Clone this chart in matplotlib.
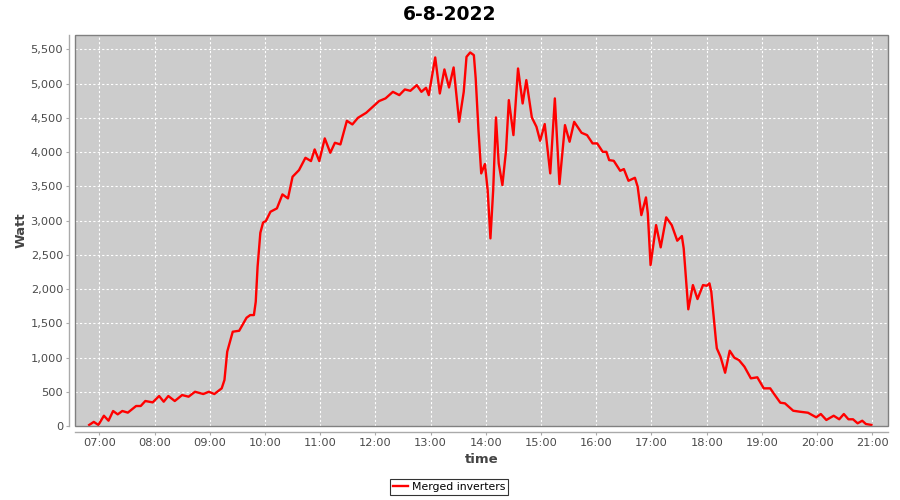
import matplotlib
matplotlib.use("Agg")
import matplotlib.pyplot as plt
from matplotlib.ticker import FuncFormatter
from matplotlib.patches import Rectangle
import pandas as pd

title = "6-8-2022"
series_name = "Merged inverters"
date = "2022-08-06"

times = [
    "06:49", "06:54", "06:59", "07:05", "07:10", "07:15", "07:20", "07:25", "07:31", "07:40",
    "07:45", "07:50", "07:58", "08:05", "08:10", "08:15", "08:22", "08:30", "08:37", "08:44",
    "08:53", "08:59", "09:05", "09:13", "09:16", "09:19", "09:25", "09:32", "09:40", "09:44",
    "09:48", "09:50", "09:52", "09:55", "09:58", "10:01", "10:06", "10:13", "10:19", "10:25",
    "10:30", "10:37", "10:44", "10:50", "10:54", "10:59", "11:05", "11:11", "11:16", "11:22",
    "11:29", "11:35", "11:41", "11:50", "11:58", "12:04", "12:11", "12:19", "12:26", "12:32",
    "12:38", "12:45", "12:50", "12:55", "12:58", "13:05", "13:10", "13:15", "13:20", "13:25",
    "13:31", "13:36", "13:39", "13:43", "13:47", "13:49", "13:52", "13:55", "13:59", "14:02",
    "14:05", "14:08", "14:11", "14:14", "14:18", "14:22", "14:25", "14:30", "14:35", "14:40",
    "14:44", "14:50", "14:55", "14:59", "15:04", "15:10", "15:15", "15:20", "15:26", "15:31",
    "15:36", "15:44", "15:50", "15:56", "16:01", "16:07", "16:11", "16:14", "16:19", "16:26",
    "16:30", "16:35", "16:42", "16:45", "16:49", "16:54", "16:56", "16:59", "17:05", "17:10",
    "17:16", "17:22", "17:28", "17:33", "17:35", "17:40", "17:45", "17:50", "17:56", "18:00",
    "18:03", "18:05", "18:10", "18:11", "18:15", "18:20", "18:25", "18:30", "18:35", "18:41",
    "18:48", "18:55", "19:02", "19:09", "19:14", "19:20", "19:25", "19:34", "19:41", "19:50",
    "19:59", "20:04", "20:10", "20:18", "20:24", "20:29", "20:34", "20:39", "20:44", "20:49",
    "20:53", "20:59",
]
watts = [
    15, 60, 15, 150, 78, 219, 170, 219, 195, 292,
    292, 365, 345, 438, 355, 438, 365, 452, 428, 500,
    467, 500, 467, 550, 672, 1085, 1377, 1391, 1581, 1620,
    1620, 1815, 2326, 2822, 2973, 2993, 3129, 3178, 3382, 3324,
    3640, 3737, 3917, 3869, 4039, 3869, 4200, 3990, 4136, 4112,
    4457, 4404, 4500, 4574, 4672, 4745, 4784, 4880, 4832, 4915,
    4895, 4978, 4880, 4939, 4832, 5382, 4856, 5207, 4944, 5236,
    4442, 4880, 5391, 5455, 5416, 5076, 4321, 3689, 3825, 3445,
    2740, 3445, 4506, 3835, 3518, 4029, 4759, 4248, 5221, 4710,
    5051, 4506, 4370, 4165, 4409, 3689, 4784, 3533, 4394, 4151,
    4442, 4282, 4248, 4127, 4127, 4004, 4004, 3883, 3873, 3727,
    3752, 3581, 3625, 3494, 3080, 3338, 3105, 2350, 2934, 2609,
    3047, 2934, 2706, 2774, 2594, 1704, 2058, 1854, 2058, 2048,
    2083, 1960, 1255, 1134, 1012, 778, 1099, 997, 963, 866,
    696, 711, 550, 550, 453, 340, 331, 223, 209, 194,
    127, 175, 88, 150, 98, 175, 98, 98, 39, 77,
    29, 15,
]
y_ticks = [0, 500, 1000, 1500, 2000, 2500, 3000, 3500, 4000, 4500, 5000, 5500]
x_tick_labels = ["07:00", "08:00", "09:00", "10:00", "11:00", "12:00", "13:00",
                 "14:00", "15:00", "16:00", "17:00", "18:00", "19:00", "20:00", "21:00"]

plt.rcParams["font.family"] = ["DejaVu Sans"]

x = pd.to_datetime([f"{date} {t}" for t in times])
x_ticks = pd.to_datetime([f"{date} {t}" for t in x_tick_labels])

fig = plt.figure(figsize=(9, 5), dpi=100)
fig.patch.set_facecolor("white")
ax = fig.add_axes([75 / 900, 74 / 500, 813 / 900, 391 / 500])
ax.set_facecolor("#cccccc")

ax.plot(x, watts, color="#ff0000", lw=1.7, solid_joinstyle="round", label=series_name, zorder=3)

ax.set_xlim(pd.Timestamp(f"{date} 06:33:36"), pd.Timestamp(f"{date} 21:17:00"))
ax.set_ylim(0, 5710)
ax.set_yticks(y_ticks)
ax.yaxis.set_major_formatter(FuncFormatter(lambda v, p: f"{int(v):,}"))
ax.set_xticks(x_ticks)
ax.set_xticklabels(x_tick_labels)

ax.grid(True, color="white", lw=0.8, linestyle=(0, (2, 2)), zorder=1)
ax.set_axisbelow(True)

for s in ["top", "right"]:
    ax.spines[s].set_visible(False)
for s in ["left", "bottom"]:
    ax.spines[s].set_position(("outward", 4))
    ax.spines[s].set_color("#aaaaaa")
    ax.spines[s].set_linewidth(1.0)

ax.add_patch(Rectangle((0, 0), 1, 1, transform=ax.transAxes, fill=False,
                       edgecolor="#808080", lw=1.0, zorder=5, clip_on=False))

ax.tick_params(axis="both", direction="out", length=2.5, width=0.8, color="#aaaaaa",
               labelsize=8.2, labelcolor="#4a4a4a", pad=2)

ax.set_ylabel("Watt", fontsize=9.5, fontweight="bold", color="#444444", labelpad=2)
ax.set_xlabel("time", fontsize=9.5, fontweight="bold", color="#444444", labelpad=4)

fig.text(0.5, 1 - 14 / 500, title, ha="center", va="center", fontsize=13.5, fontweight="bold")

leg = fig.legend(loc="center", bbox_to_anchor=(449 / 900, 1 - 487 / 500), fontsize=7.8,
                 frameon=True, fancybox=False, handlelength=1.4, handletextpad=0.3,
                 borderpad=0.3, borderaxespad=0)
leg.get_frame().set_edgecolor("black")
leg.get_frame().set_linewidth(0.8)

fig.savefig("out.png", dpi=100)
